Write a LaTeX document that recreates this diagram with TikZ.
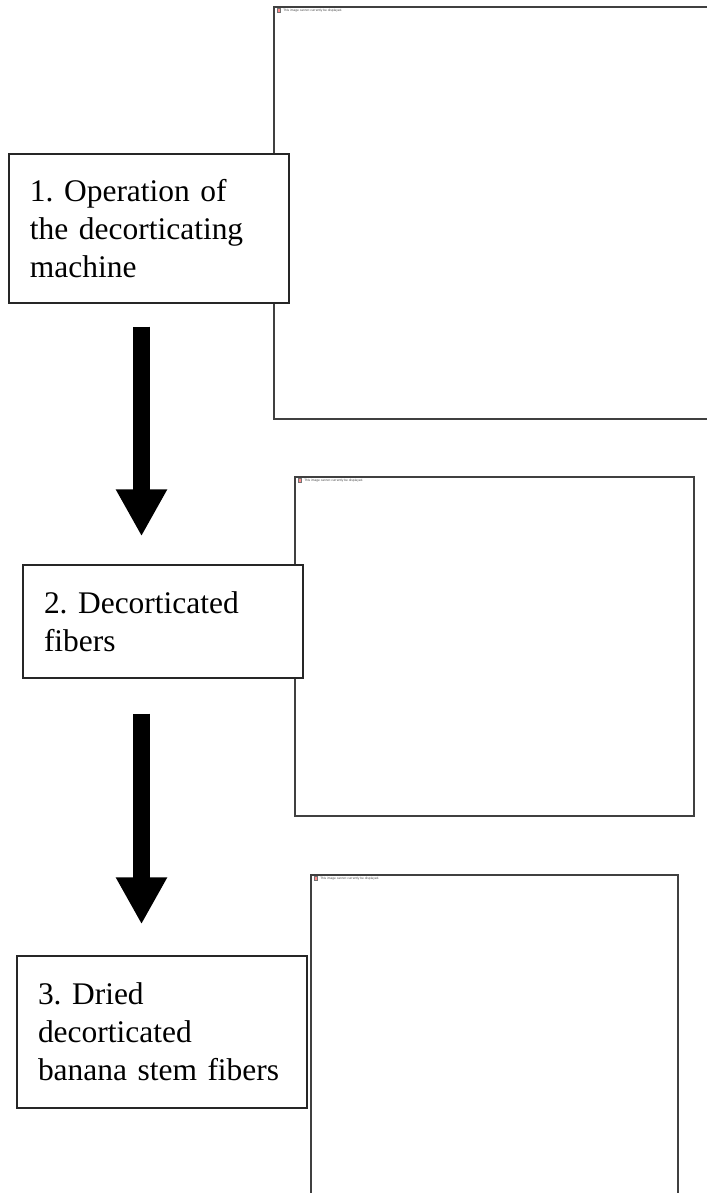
\documentclass[tikz,border=0pt]{standalone}
\usepackage{fontspec}
\setmainfont{Liberation Serif}
\newfontfamily\framefont{Liberation Sans}
\usepackage{xcolor}
\usetikzlibrary{
    arrows.meta
}
\frenchspacing

\begin{document}
\begin{tikzpicture}[
x=0.75pt, y=-0.75pt,
stepbox/.style={
draw=black!85,
line width=1pt,
fill=white,
inner xsep=15.75pt,
inner ysep=0pt,
align=left,
font=\fontsize{23.6}{28.5}\selectfont
},
photoframe/.style={
draw=black!75,
line width=1.1pt
},
photonote/.style={
anchor=west,
inner sep=0pt,
text=black!70,
font=\framefont\fontsize{2.4}{2.8}\selectfont
},
photoicon/.style={
draw=black!55,
line width=0.3pt,
fill=red!45
},
flow/.style={
line width=12.75pt,
-{Triangle[width=36pt, length=35.25pt]}
}
]

\clip (0,0) rectangle (707,1193);

% picture frames on the right
\draw[photoframe] (274,7) rectangle (712,419);
\draw[photoicon] (277,8.5) rectangle (280.5,12);
\node[photonote] (note1) at (283,10.5)
{This image cannot currently be displayed.};

\draw[photoframe] (295,477) rectangle (694,816);
\draw[photoicon] (298,478.5) rectangle (301.5,482);
\node[photonote] (note2) at (304,480.5)
{This image cannot currently be displayed.};

\draw[photoframe] (311,875) rectangle (678,1210);
\draw[photoicon] (314,876.5) rectangle (317.5,880);
\node[photonote] (note3) at (320,878.5)
{This image cannot currently be displayed.};

% process steps
\node[stepbox, text width=178.5pt,
minimum height=111.75pt] (machine) at (149,228.5)
{1. Operation of\\the decorticating\\machine};

\node[stepbox, text width=178.5pt,
minimum height=84.75pt] (fibers) at (163,621.5)
{2. Decorticated\\fibers};

\node[stepbox, text width=186pt,
minimum height=114pt] (dried) at (162,1032)
{3. Dried\\decorticated\\banana stem fibers};

\draw[flow]
([xshift=-5.625pt, yshift=-17.25pt]machine.south) --
([xshift=-16.125pt, yshift=21pt]fibers.north);

\draw[flow]
([xshift=-16.125pt, yshift=-26.25pt]fibers.south) --
([xshift=-15.375pt, yshift=23.25pt]dried.north);

\end{tikzpicture}
\end{document}
